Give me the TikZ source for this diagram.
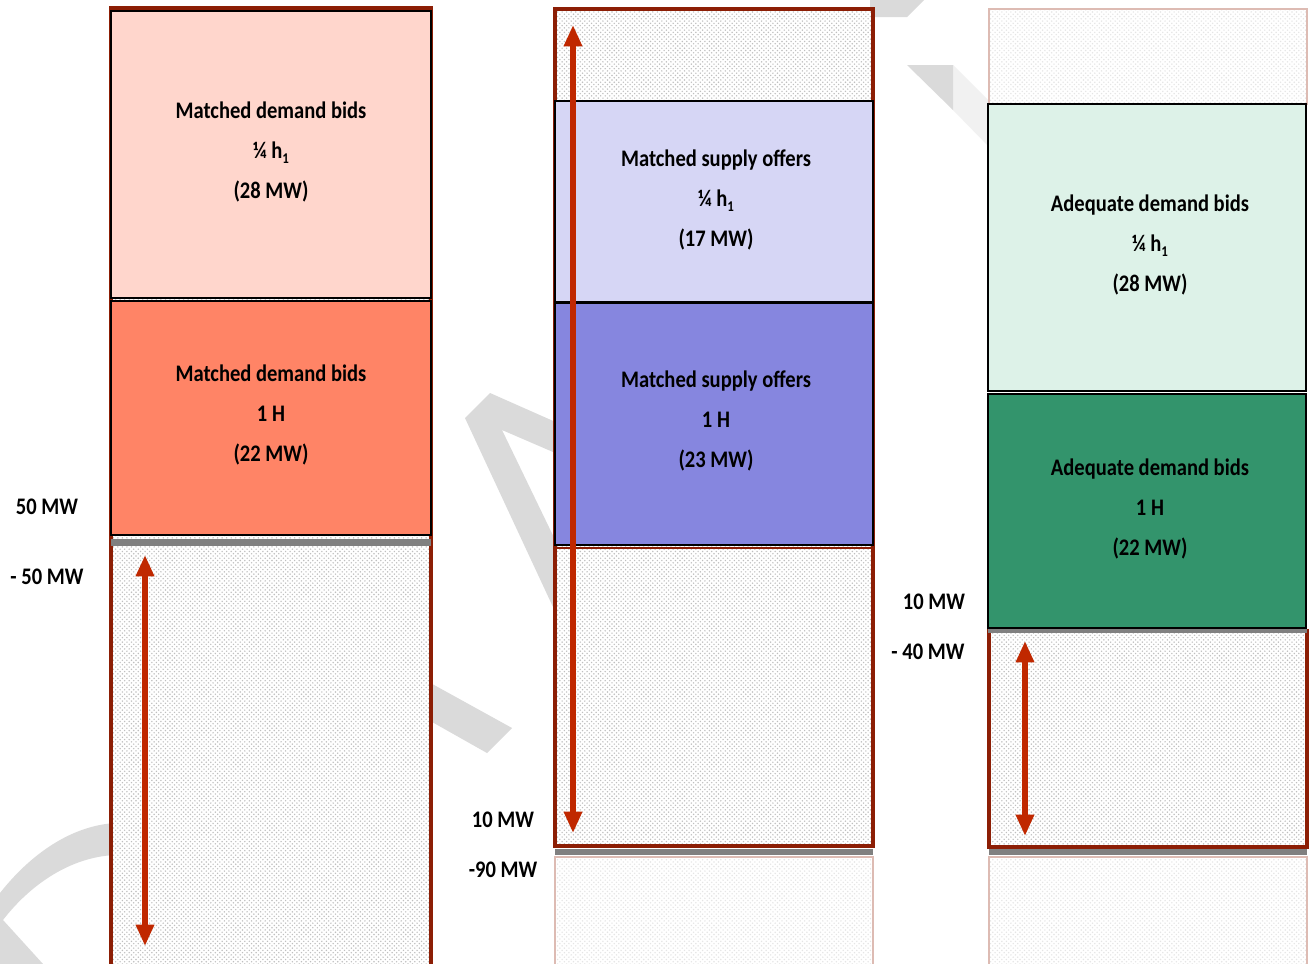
\documentclass[tikz,border=0pt]{standalone}
\usepackage{fontspec}
\setmainfont{Carlito}
\usetikzlibrary{patterns,arrows.meta}
\definecolor{dred}{RGB}{140,30,5}
\definecolor{arrred}{RGB}{192,40,0}
\definecolor{fadeborder}{RGB}{221,187,179}
\definecolor{pinkbox}{HTML}{FFD6CC}
\definecolor{orangebox}{HTML}{FF8466}
\definecolor{lavbox}{HTML}{D6D6F5}
\definecolor{purplebox}{HTML}{8686DF}
\definecolor{mintbox}{HTML}{DDF2E8}
\definecolor{greenbox}{HTML}{33946C}
\definecolor{wmark}{HTML}{DADADA}
\definecolor{wmarklight}{HTML}{F1F1F1}
\definecolor{sepgray}{HTML}{808080}
\pgfdeclarepatternformonly{mydots}{\pgfqpoint{-1pt}{-1pt}}{\pgfqpoint{2.5pt}{2.5pt}}{\pgfqpoint{3.4pt}{3.4pt}}{%
  \pgfpathcircle{\pgfqpoint{0pt}{0pt}}{0.6pt}%
  \pgfpathcircle{\pgfqpoint{1.7pt}{1.7pt}}{0.6pt}%
  \pgfusepath{fill}}
\newcommand\hsub[1]{\raisebox{-0.4ex}{\fontsize{10}{10}\selectfont #1}}
\newcommand\tl[1]{\scalebox{0.97}[1.12]{#1}}
\begin{document}
\begin{tikzpicture}[x=0.75pt,y=-0.75pt,
  dotted area/.style={preaction={fill=white}, pattern=mydots, pattern color=gray!50},
  faded area/.style={preaction={fill=white}, pattern=mydots, pattern color=gray!20, draw=fadeborder, line width=2pt},
  redframe/.style={draw=dred, line width=2.3pt},
  filledbox/.style={draw=black, line width=1.6pt},
  sepline/.style={draw=sepgray, line width=5.2pt},
  boxtext/.style={font=\fontsize{15.9}{30}\selectfont\bfseries, align=center, text=black},
  sidelbl/.style={font=\fontsize{15.9}{18}\selectfont\bfseries, text=black},
  redarr/.style={draw=arrred, line width=3.9pt, {Triangle[width=13pt,length=16pt]}-{Triangle[width=13pt,length=16pt]}}
]
\useasboundingbox (0,0) rectangle (1315,964);
\clip (0,0) rectangle (1315,964);
\fill[white] (0,0) rectangle (1315,964);

% watermark fragments
\fill[wmark] (465,418) -- (490,393) -- (560,424) -- (560,455) -- (502,430) -- (560,550) -- (560,622) -- cycle;
\fill[wmark] (425,680) -- (512,728) -- (487,753) -- (425,718) -- cycle;
\fill[wmark] (115,823) .. controls (70,826) and (30,855) .. (0,893) -- (0,964) -- (43,964) -- (3,920)
  .. controls (30,885) and (70,857) .. (115,855) -- cycle;
\fill[wmark] (870,0) -- (924,0) -- (907,17) -- (870,17) -- cycle;
\fill[wmarklight] (953,65) -- (992,104) -- (992,150) -- (953,110) -- cycle;
\fill[wmark] (907,65) -- (953,65) -- (953,110) -- cycle;

% ---------- column 1 ----------
\path[dotted area] (111,8) rectangle (431,975);
\draw[redframe] (111,8) rectangle (431,975);
\draw[filledbox, fill=pinkbox] (111,11) rectangle (431,298);
\draw[filledbox, fill=orangebox] (111,301) rectangle (431,535);
\coordinate (s1l) at (111,542.5);
\coordinate (s1r) at (431,542.5);
\draw[sepline] (s1l) -- (s1r);
\node[boxtext] (t11) at (271,152) {\tl{Matched demand bids}\\\tl{¼ h\hsub{1}}\\\tl{(28 MW)}};
\node[boxtext] (t12) at (271,415) {\tl{Matched demand bids}\\\tl{1 H}\\\tl{(22 MW)}};
\coordinate (a1t) at (145,555);
\coordinate (a1b) at (145,946);
\draw[redarr] (a1t) -- (a1b);

% ---------- column 2 ----------
\path[dotted area] (555,9) rectangle (873,846);
\draw[redframe] (555,9) rectangle (873,846);
\draw[filledbox, fill=lavbox] (555,101) rectangle (873,302);
\draw[filledbox, fill=purplebox] (555,303) rectangle (873,545);
\draw[dred, line width=2pt] (555,548) -- (873,548);
\coordinate (s2l) at (555,852);
\coordinate (s2r) at (873,852);
\path[faded area] (555,857) rectangle (873,975);
\draw[sepline] (s2l) -- (s2r);
\node[boxtext] (t21) at (716,200) {\tl{Matched supply offers}\\\tl{¼ h\hsub{1}}\\\tl{(17 MW)}};
\node[boxtext] (t22) at (716,421) {\tl{Matched supply offers}\\\tl{1 H}\\\tl{(23 MW)}};
\coordinate (a2t) at (573,25);
\coordinate (a2b) at (573,833);
\draw[redarr] (a2t) -- (a2b);

% ---------- column 3 ----------
\path[faded area] (989,9) rectangle (1307,104);
\draw[filledbox, fill=mintbox] (988,104) rectangle (1306,391);
\draw[filledbox, fill=greenbox] (988,394) rectangle (1306,628);
\path[dotted area] (989,631) rectangle (1307,847);
\draw[redframe] (989,631) rectangle (1307,847);
\coordinate (s3al) at (988,631);
\coordinate (s3ar) at (1307,631);
\draw[sepgray, line width=3.2pt] (s3al) -- (s3ar);
\coordinate (s3bl) at (989,852);
\coordinate (s3br) at (1307,852);
\path[faded area] (989,857) rectangle (1307,975);
\draw[sepline] (s3bl) -- (s3br);
\node[boxtext] (t31) at (1150,245) {\tl{Adequate demand bids}\\\tl{¼ h\hsub{1}}\\\tl{(28 MW)}};
\node[boxtext] (t32) at (1150,509) {\tl{Adequate demand bids}\\\tl{1 H}\\\tl{(22 MW)}};
\coordinate (a3t) at (1025,641);
\coordinate (a3b) at (1025,836);
\draw[redarr] (a3t) -- (a3b);

% ---------- side labels ----------
\node[sidelbl] (l1) at (47,507) {\tl{50 MW}};
\node[sidelbl] (l2) at (47,577) {\tl{- 50 MW}};
\node[sidelbl] (l3) at (503,820) {\tl{10 MW}};
\node[sidelbl] (l4) at (503,870) {\tl{-90 MW}};
\node[sidelbl] (l5) at (934,602) {\tl{10 MW}};
\node[sidelbl] (l6) at (928,652) {\tl{- 40 MW}};
\end{tikzpicture}
\end{document}
